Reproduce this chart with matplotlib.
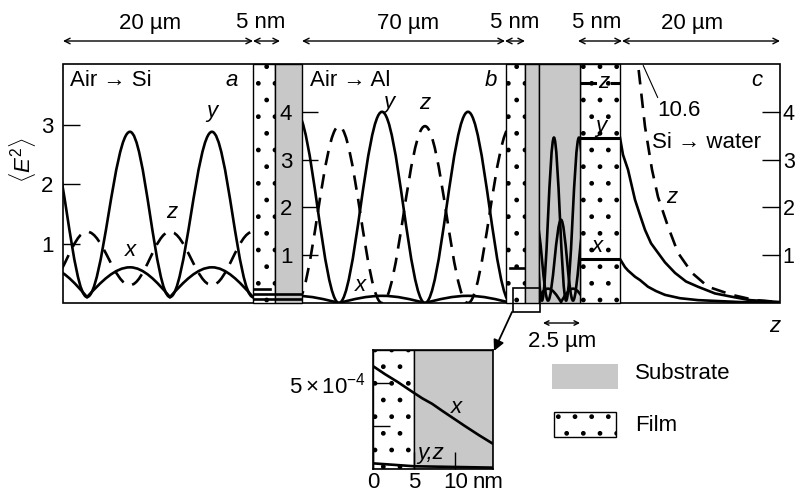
import matplotlib
matplotlib.use('Agg')
import matplotlib.pyplot as plt
from matplotlib.path import Path
from matplotlib.patches import PathPatch, Rectangle

plt.rcParams['font.family'] = ['Liberation Sans', 'DejaVu Sans']
plt.rcParams['mathtext.fontset'] = 'custom'
plt.rcParams['mathtext.rm'] = 'Liberation Sans'
plt.rcParams['mathtext.it'] = 'Liberation Sans:italic'
plt.rcParams['hatch.linewidth'] = 1.0

GRAY = '#c8c8c8'
FS = 16
LW = 1.9
DASH = (0, (5.5, 3.5))

# ---- data ----
# panel a: Air -> Si, positions of extrema (um) and <E^2> there
a_pos = [-1.68, 2.53, 7.05, 11.26, 15.68, 20.0, 24.4]
a_y = [2.88, 0.10, 2.88, 0.10, 2.88, 0.10, 2.88]
a_x = [0.60, 0.10, 0.60, 0.10, 0.60, 0.10, 0.60]
a_z = [0.30, 1.20, 0.30, 1.20, 0.30, 1.20, 0.30]
a_film = [0.24, 0.15, 0.07]

# panel b: Air -> Al
b_pos = [-2.06, 12.69, 27.45, 42.2, 56.96, 71.7]
b_y = [4.0, 0.0, 4.0, 0.0, 4.0, 0.0]
b_z = [0.0, 3.7, 0.0, 3.7, 0.0, 3.7]
b_x = [0.15, 0.0, 0.15, 0.0, 0.15, 0.0]
b_film_z = 0.73

# Si substrate under film c (2.5 um scale)
si_y_pos = [-0.61, 0.20, 1.01, 1.83, 2.70, 3.50]
si_y = [3.46, 0.05, 3.46, 0.05, 3.46, 0.05]
si_x_pos = [-0.20, 0.61, 1.49, 2.30, 3.11]
si_x = [1.74, 0.05, 1.74, 0.05, 1.74]
si_z = [0.02, 0.30, 0.02, 0.30, 0.02]

# film c levels
c_film = {'z': 4.6, 'y': 3.46, 'x': 0.92}

# panel c: Si -> water, decay into water (um)
c_y_pos = [0, 0.375, 1.0, 1.875, 2.5, 3.125, 3.875, 4.75, 5.625, 6.875, 8.25, 9.75, 11.875, 14.0, 16.25, 20.0]
c_y = [3.46, 3.1, 2.79, 2.16, 1.84, 1.53, 1.25, 1.05, 0.85, 0.63, 0.45, 0.34, 0.2, 0.13, 0.06, 0.02]
c_x_pos = [0, 0.625, 1.0, 1.875, 2.5, 3.5, 4.5, 5.625, 7.5, 9.75, 15.0, 20.0]
c_x = [0.92, 0.75, 0.68, 0.55, 0.48, 0.34, 0.25, 0.17, 0.10, 0.06, 0.02, 0.01]
c_z_pos = [0, 0.75, 1.5, 2.25, 3.125, 4.0, 4.75, 6.0, 7.25, 9.0, 11.0, 14.0, 16.875, 20.0]
c_z = [10.6, 8.3, 6.5, 5.0, 3.69, 2.79, 2.22, 1.6, 1.05, 0.63, 0.34, 0.17, 0.06, 0.02]

# inset: first 15 nm, units of 1e-4
in_nm = [0, 1.46, 3.05, 4.88, 6.0, 7.2, 8.4, 9.8, 11.2, 12.9, 14.6]
in_x = [6.0, 5.53, 5.06, 4.47, 4.12, 3.8, 3.4, 2.95, 2.5, 1.97, 1.47]
in_yz_nm = [0, 5, 14.6]
in_yz = [0.33, 0.16, 0.08]

W, H = 798, 494
fig = plt.figure(figsize=(W / 100, H / 100), dpi=100)


def px_box(x0, y0, x1, y1):
    return [x0 / W, 1 - y1 / H, (x1 - x0) / W, (y1 - y0) / H]


def wave(ax, xs, vs, cusp=False, **kw):
    # smooth standing-wave shape through the extrema
    verts = [(xs[0], vs[0])]
    for x0, v0, x1, v1 in zip(xs[:-1], vs[:-1], xs[1:], vs[1:]):
        dx = x1 - x0
        if cusp and v1 < v0:
            c1, c2 = (x0 + 0.344 * dx, v0), (x1 - 0.334 * dx, v1 + 0.525 * (v0 - v1))
        elif cusp and v1 > v0:
            c1, c2 = (x0 + 0.334 * dx, v0 + 0.525 * (v1 - v0)), (x1 - 0.344 * dx, v1)
        else:
            c1, c2 = (x0 + 0.364 * dx, v0), (x1 - 0.364 * dx, v1)
        verts += [c1, c2, (x1, v1)]
    codes = [Path.MOVETO] + [Path.CURVE4] * (len(verts) - 1)
    ax.add_patch(PathPatch(Path(verts, codes), fill=False, color='k', lw=LW, **kw))


def clean(ax, xlim, ylim):
    ax.set_xlim(*xlim)
    ax.set_ylim(*ylim)
    ax.set_facecolor('none')
    for s in ax.spines.values():
        s.set_visible(False)
    ax.set_xticks([])
    ax.set_yticks([])


# background drawing layer in pixel units
deco = fig.add_axes([0, 0, 1, 1])
deco.set_xlim(0, W)
deco.set_ylim(H, 0)
deco.axis('off')

deco.add_patch(Rectangle((63, 64), 717, 239, fill=False, lw=1.2))
for x0, x1 in [(253, 275), (506, 525), (580, 620)]:
    deco.add_patch(Rectangle((x0, 64), x1 - x0, 239, facecolor='white', edgecolor='k', hatch='.', lw=1))
for x0, x1 in [(275, 302), (525, 539), (539, 580)]:
    deco.add_patch(Rectangle((x0, 64), x1 - x0, 239, facecolor=GRAY, edgecolor='k', lw=1))

# scale arrows on top
for x0, x1, lab, lx in [(63, 253, '20 \u00b5m', 150), (253, 280, '5 nm', 261),
                        (302, 505, '70 \u00b5m', 408), (505, 525, '5 nm', 515),
                        (578, 622, '5 nm', 597), (622, 780, '20 \u00b5m', 692)]:
    deco.annotate('', xy=(x1, 41), xytext=(x0, 41),
                  arrowprops=dict(arrowstyle='<->', lw=1, mutation_scale=10, shrinkA=0, shrinkB=0))
    deco.text(lx, 23, lab, ha='center', va='center', fontsize=FS)

deco.text(22, 160, r'$\langle E^2\rangle$', rotation=90, ha='center', va='center', fontsize=FS)
deco.text(70, 81, 'Air \u2192 Si', ha='left', va='center', fontsize=FS)
deco.text(310, 81, 'Air \u2192 Al', ha='left', va='center', fontsize=FS)
deco.text(652, 142, 'Si \u2192 water', ha='left', va='center', fontsize=FS)
for lab, x, y in [('a', 232, 80), ('b', 491, 80), ('c', 757, 80),
                  ('y', 212, 111), ('z', 172, 212), ('x', 130, 250),
                  ('y', 389, 102), ('z', 425, 103), ('x', 360, 285),
                  ('z', 604, 82), ('y', 601, 126), ('x', 597, 246),
                  ('z', 672, 197), ('z', 775, 326)]:
    deco.text(x, y, lab, ha='center', va='center', fontsize=FS, style='italic')

# inset marker and pointer
deco.add_patch(Rectangle((513, 288), 27, 24, fill=False, lw=1.2))
deco.annotate('', xy=(494, 351), xytext=(512, 312),
              arrowprops=dict(arrowstyle='-|>', lw=1.3, color='k', mutation_scale=16, shrinkA=0, shrinkB=0))

# 2.5 um scale bar
deco.annotate('', xy=(580, 323), xytext=(543, 323),
              arrowprops=dict(arrowstyle='<->', lw=1, mutation_scale=8, shrinkA=0, shrinkB=0))
deco.text(562, 341, '2.5 \u00b5m', ha='center', va='center', fontsize=FS)

# legend
deco.add_patch(Rectangle((552, 364), 66, 25, facecolor=GRAY, edgecolor='none'))
deco.add_patch(Rectangle((554, 412), 62, 25, facecolor='white', edgecolor='k', hatch='.', lw=1))
deco.text(635, 373, 'Substrate', ha='left', va='center', fontsize=FS)
deco.text(635, 425, 'Film', ha='left', va='center', fontsize=FS)

# ---- panel a ----
ax_a = fig.add_axes(px_box(63, 64, 253, 303))
clean(ax_a, (0, 20), (0, 4.02))
wave(ax_a, a_pos, a_y)
wave(ax_a, a_pos, a_x, cusp=True)
wave(ax_a, a_pos, a_z, linestyle=DASH)
ax_a.set_yticks([1, 2, 3])
ax_a.tick_params(axis='y', direction='in', length=12, width=1, pad=7, labelsize=FS)

ax_fa = fig.add_axes(px_box(253, 64, 302, 303))
clean(ax_fa, (0, 1), (0, 4.02))
ax_fa.plot([0.02, 0.35], [a_film[0]] * 2, color='k', lw=LW)
for v in a_film[1:]:
    ax_fa.plot([0, 1], [v, v], color='k', lw=LW)

# ---- panel b ----
ax_b = fig.add_axes(px_box(302, 64, 506, 303))
clean(ax_b, (0, 70), (0, 5.0))
wave(ax_b, b_pos, b_y)
wave(ax_b, b_pos, b_x, cusp=True)
wave(ax_b, b_pos, b_z, linestyle=DASH)
ax_b.set_yticks([1, 2, 3, 4])
ax_b.tick_params(axis='y', direction='in', length=11.5, width=1, pad=7, labelsize=FS)

ax_fb = fig.add_axes(px_box(506, 64, 525, 303))
clean(ax_fb, (0, 1), (0, 5.0))
ax_fb.plot([0.2, 1.0], [b_film_z] * 2, color='k', lw=LW)

# ---- Si substrate ----
ax_si = fig.add_axes(px_box(539, 64, 580, 303))
clean(ax_si, (0, 2.77), (0, 5.0))
wave(ax_si, si_y_pos, si_y)
wave(ax_si, si_x_pos, si_x)
wave(ax_si, si_x_pos, si_z, cusp=True)

# ---- film c ----
ax_fc = fig.add_axes(px_box(580, 64, 620, 303))
clean(ax_fc, (0, 1), (0, 5.0))
ax_fc.plot([0, 1], [c_film['y']] * 2, color='k', lw=2.2)
ax_fc.plot([0, 1], [c_film['x']] * 2, color='k', lw=2.2)
ax_fc.plot([0, 0.38], [c_film['z']] * 2, color='k', lw=2.2)
ax_fc.plot([0.8, 1], [c_film['z']] * 2, color='k', lw=2.2)

# ---- panel c ----
ax_c = fig.add_axes(px_box(620, 64, 780, 303))
clean(ax_c, (0, 20), (0, 5.0))
ax_c.plot(c_y_pos, c_y, color='k', lw=LW)
ax_c.plot(c_x_pos, c_x, color='k', lw=LW)
ax_c.plot(c_z_pos, c_z, color='k', lw=LW, linestyle=DASH)
ax_c.yaxis.tick_right()
ax_c.set_yticks([1, 2, 3, 4])
ax_c.tick_params(axis='y', direction='in', length=13, width=1, pad=2, labelsize=FS - 0.5)
ax_c.annotate('10.6', xy=(2.9, 4.97), xytext=(4.6, 4.02), ha='left', va='center', fontsize=FS,
              arrowprops=dict(arrowstyle='-', lw=0.8, relpos=(0.05, 1.0), shrinkA=0, shrinkB=0))

# ---- inset ----
ax_in = fig.add_axes(px_box(373, 350, 493, 469))
ax_in.set_xlim(0, 14.6)
ax_in.set_ylim(0, 6.94)
ax_in.add_patch(Rectangle((0, 0), 5, 6.94, facecolor='white', edgecolor='k', hatch='.', lw=1))
ax_in.add_patch(Rectangle((5, 0), 9.6, 6.94, facecolor=GRAY, edgecolor='k', lw=1))
ax_in.plot(in_nm, in_x, color='k', lw=LW)
ax_in.plot(in_yz_nm, in_yz, color='k', lw=LW)
for s in ax_in.spines.values():
    s.set_linewidth(1.2)
ax_in.set_yticks([2.5, 5])
ax_in.set_yticklabels(['', r'$5\times10^{-4}$'])
ax_in.set_xticks([0, 5, 10])
ax_in.set_xticklabels(['0', '5', '10'])
ax_in.tick_params(axis='y', direction='in', length=12, width=1, pad=5, labelsize=FS)
ax_in.tick_params(axis='x', direction='in', length=12, width=1, pad=2, labelsize=FS)
ax_in.text(10.2, 3.6, 'x', style='italic', fontsize=FS, ha='center', va='center')
ax_in.text(7.0, 0.9, 'y,z', style='italic', fontsize=FS, ha='center', va='center')
deco.text(473, 482, 'nm', ha='left', va='center', fontsize=FS)

fig.savefig('out.png', dpi=100)
